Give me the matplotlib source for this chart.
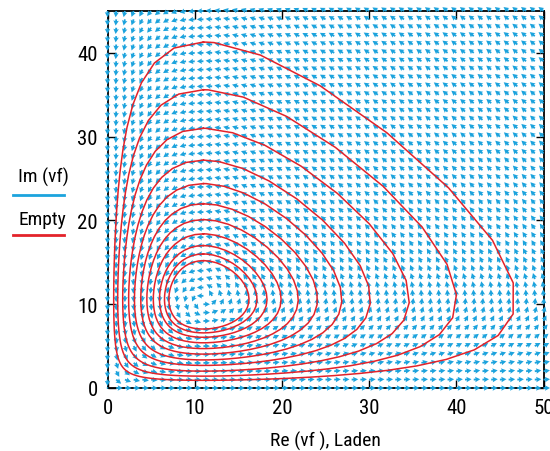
import numpy as np
import matplotlib.pyplot as plt

# predator-prey field
x_eq = 11.0          # prey level where the predator peaks
y_eq = 10.6          # predator level where the prey peaks
coef_b = 0.10        # predation rate
coef_d = 0.082       # conversion rate

# top (max y, at x = x_eq) of each closed orbit
orbit_top = [41.3, 35.6, 31.0, 27.2, 24.4, 22.0, 20.1, 18.4, 17.0, 16.0, 15.2]

# quiver grid limits
x_lim = (0, 50)
y_lim = (0, 45)
xticks = [0, 10, 20, 30, 40, 50]
yticks = [0, 10, 20, 30, 40]

legend_labels = ['Im (vf)', 'Empty']
xlabel = 'Re (vf ), Laden'

cyan = '#1ca3dd'
red = '#e3232a'

plt.rcParams['font.family'] = ['Liberation Sans Narrow', 'Roboto Condensed', 'Roboto', 'DejaVu Sans']

coef_a = coef_b * y_eq
coef_c = coef_d * x_eq


def field(x, y):
    return x * (coef_a - coef_b * y), y * (-coef_c + coef_d * x)


def orbit(x0, y0, dt=0.01, nmax=20000):
    pts = [(x0, y0)]
    x, y = x0, y0
    prev = np.arctan2(y - y_eq, x - x_eq)
    total = 0.0
    for _ in range(nmax):
        k1 = field(x, y)
        k2 = field(x + dt / 2 * k1[0], y + dt / 2 * k1[1])
        k3 = field(x + dt / 2 * k2[0], y + dt / 2 * k2[1])
        k4 = field(x + dt * k3[0], y + dt * k3[1])
        x += dt / 6 * (k1[0] + 2 * k2[0] + 2 * k3[0] + k4[0])
        y += dt / 6 * (k1[1] + 2 * k2[1] + 2 * k3[1] + k4[1])
        pts.append((x, y))
        ang = np.arctan2(y - y_eq, x - x_eq)
        dang = (ang - prev + np.pi) % (2 * np.pi) - np.pi
        total += dang
        prev = ang
        if total >= 2 * np.pi:
            break
    pts = np.array(pts)
    # keep a coarse polyline, closed on the start point
    return np.vstack([pts[::12], pts[:1]])


fig = plt.figure(figsize=(5.5, 4.52), dpi=100)
ax = fig.add_axes([107.5 / 550, 1 - 389 / 452, 436 / 550, 377 / 452])

# normalised vector field
gx, gy = np.meshgrid(np.arange(x_lim[0], x_lim[1] + 1), np.arange(y_lim[0], y_lim[1] + 1))
u, v = field(gx.astype(float), gy.astype(float))
mag = np.hypot(u, v)
mag[mag == 0] = 1
u, v = u / mag, v / mag
ax.quiver(gx, gy, u, v, color=cyan, angles='xy', scale_units='xy', scale=1 / 0.75,
          width=0.0042, headwidth=3.0, headlength=2.8, headaxislength=2.5,
          zorder=3, clip_on=False)

for top in orbit_top:
    p = orbit(x_eq, top)
    ax.plot(p[:, 0], p[:, 1], color=red, lw=1.1, zorder=4)

ax.set_xlim(*x_lim)
ax.set_ylim(*y_lim)
ax.set_xticks(xticks)
ax.set_yticks(yticks)
ax.tick_params(direction='in', length=6, width=1, top=True, right=True, labelsize=15, pad=7)
for s in ax.spines.values():
    s.set_linewidth(1.3)
ax.set_xlabel(xlabel, fontsize=14, labelpad=10)

# legend on the left, text above a coloured line
fig.text(43 / 550, 1 - 177 / 452, legend_labels[0], fontsize=14, ha='center', va='center')
fig.add_artist(plt.Line2D([13 / 550, 64 / 550], [1 - 196 / 452] * 2, color=cyan, lw=2))
fig.text(42 / 550, 1 - 220 / 452, legend_labels[1], fontsize=14, ha='center', va='center')
fig.add_artist(plt.Line2D([13 / 550, 64 / 550], [1 - 236 / 452] * 2, color=red, lw=2))

fig.savefig('out.png', dpi=100)
